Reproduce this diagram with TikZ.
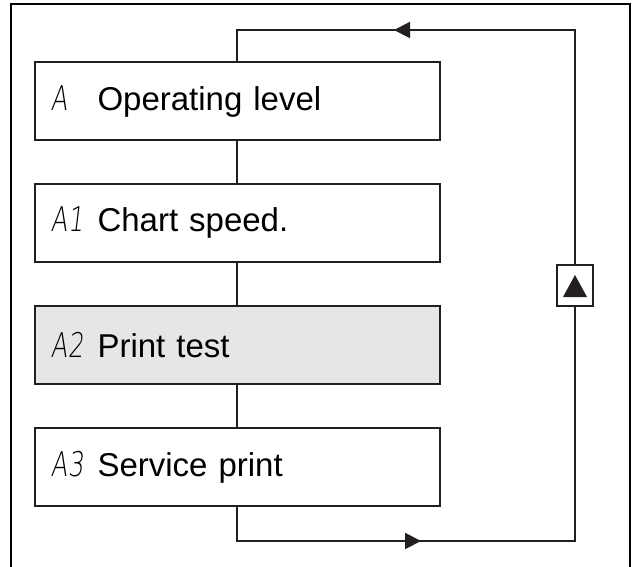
\documentclass[tikz,border=0pt]{standalone}
\usepackage{fontspec}
\setmainfont{Liberation Sans}
\newfontfamily\segfont{DejaVu Sans ExtraLight}[FakeSlant=0.12,FakeStretch=0.72]
\usetikzlibrary{arrows.meta,decorations.markings}
\definecolor{ink}{HTML}{231F20}
\definecolor{boxgray}{HTML}{E6E6E6}
\newcommand{\segcode}[2]{{\segfont\fontsize{34}{40}\selectfont\makebox[18pt][l]{#1}\makebox[15pt][r]{#2}}\makebox[14pt]{}}
\tikzset{
  menubox/.style={draw=ink, line width=2pt, minimum height=78pt, text width=373pt,
    inner xsep=16pt, inner ysep=0pt, align=left, font=\fontsize{33}{40}\selectfont},
  link/.style={draw=ink, line width=2pt},
  upkey/.style={draw=ink, fill=white, line width=2pt, minimum width=36pt, minimum height=41pt, inner sep=0pt},
  frameline/.style={draw=black, line width=2.5pt}
}
\begin{document}
\begin{tikzpicture}[x=1pt,y=-1pt]
\useasboundingbox (0,0) rectangle (637,567);
\draw[frameline] (11,570) -- (11,4) -- (630,4) -- (630,570);
\node[menubox] (a)  at (237,101.5) {\segcode{A}{}Operating level};
\node[menubox] (a1) at (237,223) {\segcode{A}{1}Chart speed.};
\node[menubox, fill=boxgray] (a2) at (237,345) {\segcode{A}{2}Print test};
\node[menubox] (a3) at (237,467) {\segcode{A}{3}Service print};
\draw[link] (a.south) -- (a1.north);
\draw[link] (a1.south) -- (a2.north);
\draw[link] (a2.south) -- (a3.north);
\coordinate (bl) at (237,541);
\coordinate (br) at (575,541);
\coordinate (tr) at (575,30);
\coordinate (tl) at (237,30);
\draw[link, postaction={decorate}, decoration={markings,
   mark=at position 218pt with {\arrow{Triangle[length=16pt,width=16pt]}},
   mark=at position 1064pt with {\arrow{Triangle[length=16pt,width=16pt]}}}]
   (a3.south) -- (bl) -- (br) -- (tr) -- (tl) -- (a.north);
\node[upkey] (key) at (575,285.5) {};
\fill[ink] ([shift={(-12,11.5)}]key.center) -- ([shift={(12,11.5)}]key.center) -- ([shift={(0,-10.5)}]key.center) -- cycle;
\end{tikzpicture}
\end{document}
